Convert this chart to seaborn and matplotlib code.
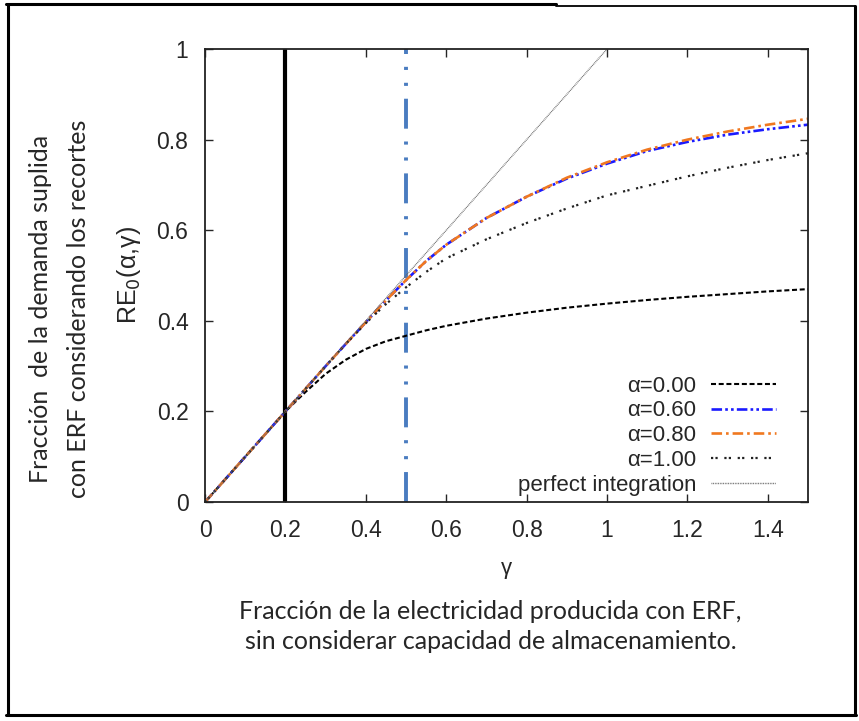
import matplotlib
matplotlib.use("Agg")
import matplotlib.pyplot as plt
import seaborn as sns
from matplotlib.lines import Line2D

# gamma grid and curves
gamma = [0.0, 0.1, 0.2, 0.25, 0.3, 0.35, 0.4, 0.45, 0.5, 0.55, 0.6,
         0.7, 0.8, 0.9, 1.0, 1.1, 1.2, 1.3, 1.4, 1.5]
re_a000 = [0.0, 0.1, 0.2, 0.243, 0.283, 0.314, 0.338, 0.355, 0.367, 0.379, 0.389,
           0.405, 0.418, 0.429, 0.438, 0.446, 0.453, 0.459, 0.465, 0.47]
re_a060 = [0.0, 0.1, 0.2, 0.25, 0.3, 0.349, 0.397, 0.445, 0.49, 0.532, 0.568,
           0.627, 0.674, 0.714, 0.747, 0.775, 0.795, 0.811, 0.823, 0.833]
re_a080 = [0.0, 0.1, 0.2, 0.25, 0.3, 0.349, 0.397, 0.445, 0.49, 0.532, 0.568,
           0.627, 0.674, 0.716, 0.750, 0.778, 0.800, 0.818, 0.833, 0.846]
re_a100 = [0.0, 0.1, 0.2, 0.25, 0.3, 0.349, 0.395, 0.437, 0.474, 0.508, 0.538,
           0.58, 0.616, 0.648, 0.677, 0.698, 0.719, 0.738, 0.755, 0.77]
perfect_x = [0.0, 1.0]
perfect_y = [0.0, 1.0]

labels = ["α=0.00", "α=0.60", "α=0.80", "α=1.00", "perfect integration"]
xticks = [0, 0.2, 0.4, 0.6, 0.8, 1.0, 1.2, 1.4]
xticklabels = ["0", "0.2", "0.4", "0.6", "0.8", "1", "1.2", "1.4"]
yticks = [0, 0.2, 0.4, 0.6, 0.8, 1.0]
yticklabels = ["0", "0.2", "0.4", "0.6", "0.8", "1"]

sns.set_theme(style="ticks")
plt.rcParams["font.family"] = ["Liberation Sans", "DejaVu Sans"]

fig = plt.figure(figsize=(8.59, 7.21), dpi=100)
ax = fig.add_axes([0.2387, 0.3037, 0.702, 0.6283])

# reference lines at gamma = 0.2 and 0.5
ax.axvline(0.2, color="black", lw=3.0, zorder=1)
ax.axvline(0.5, color="#4a7cc0", lw=2.8,
           linestyle=(0, (7.7, 3.3, 0.8, 3.3, 0.8, 3.3)), zorder=1)

series = [
    (re_a000, "black", (0, (2.4, 1.3)), 1.5),
    (re_a060, "#1a1aff", (0, (4, 1.2, 1, 1.2, 1, 1.2)), 1.9),
    (re_a080, "#f07820", (0, (4, 1.5, 1, 1.5)), 1.9),
    (re_a100, "#222222", (0, (1, 1, 1, 3)), 1.6),
]
for vals, col, ls, lw in series:
    sns.lineplot(x=gamma, y=vals, ax=ax, color=col, linestyle=ls, lw=lw)
sns.lineplot(x=perfect_x, y=perfect_y, ax=ax, color="#666666",
             linestyle=(0, (0.6, 0.6)), lw=1.0)

handles = ax.get_lines()[2:]
leg = ax.legend(handles, labels, loc="lower right", bbox_to_anchor=(0.955, 0.004),
                frameon=False, markerfirst=False, fontsize=16, handlelength=2.95,
                labelspacing=0.17, handletextpad=0.65, borderpad=0.2, borderaxespad=0.0)
for t in leg.get_texts():
    t.set_ha("right")

ax.set_xlim(0, 1.5)
ax.set_ylim(0, 1.0)
ax.set_xticks(xticks)
ax.set_xticklabels(xticklabels)
ax.set_yticks(yticks)
ax.set_yticklabels(yticklabels)
ax.tick_params(direction="in", length=6, width=1, top=True, right=True,
               labelsize=16.5, pad=12)
for sp in ax.spines.values():
    sp.set_linewidth(1.3)
    sp.set_color("#222222")

ax.set_xlabel("γ", fontsize=16, labelpad=12)
ax.set_ylabel("RE$_0$(α,γ)", fontsize=18, labelpad=10)

# annotation text (Spanish)
fig.text(0.047, 0.572, "Fracción  de la demanda suplida", rotation=90,
         ha="center", va="center", fontsize=18, family="Lato")
fig.text(0.091, 0.572, "con ERF considerando los recortes", rotation=90,
         ha="center", va="center", fontsize=18, family="Lato")
fig.text(0.571, 0.131, "Fracción de la electricidad producida con ERF,\nsin considerar capacidad de almacenamiento.",
         ha="center", va="center", fontsize=18, family="Lato", linespacing=1.38)

# outer frame
frame = [
    ([0.007, 0.647], [0.994, 0.994], 2.2),
    ([0.647, 0.995], [0.991, 0.991], 1.3),
    ([0.009, 0.009], [0.009, 0.994], 2.2),
    ([0.995, 0.995], [0.009, 0.991], 2.2),
    ([0.007, 0.996], [0.009, 0.009], 2.2),
]
for xs, ys, w in frame:
    fig.add_artist(Line2D(xs, ys, transform=fig.transFigure, color="black", lw=w))

fig.savefig("out.png", dpi=100)
